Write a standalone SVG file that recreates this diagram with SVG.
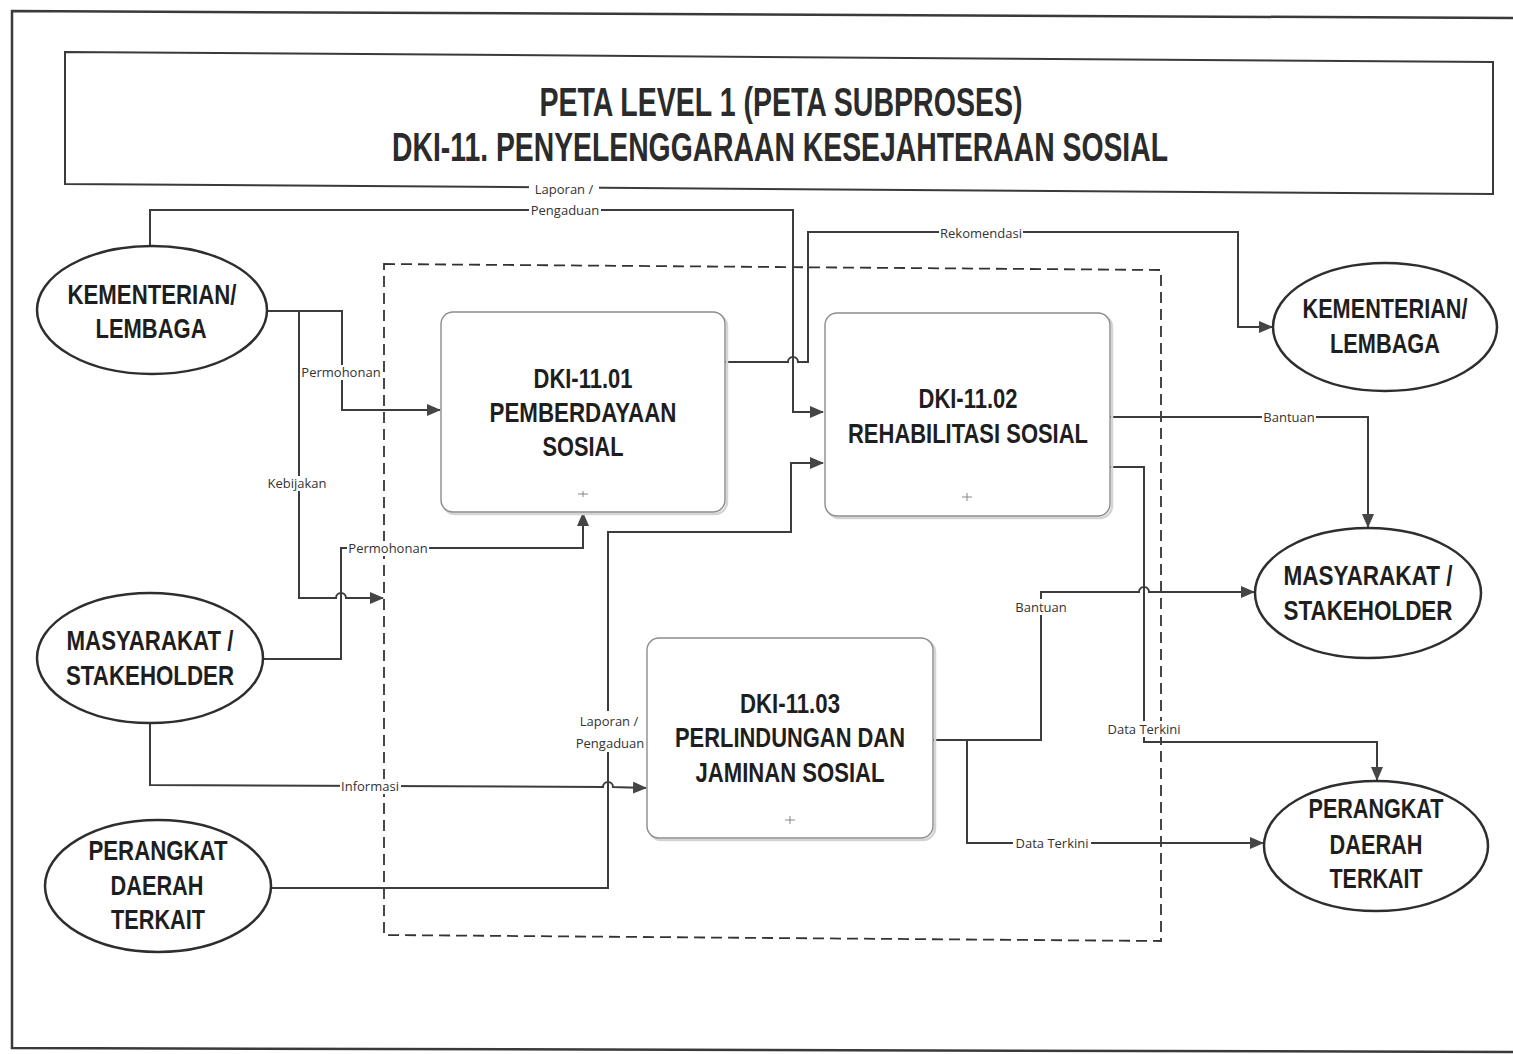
<svg xmlns="http://www.w3.org/2000/svg" width="1513" height="1054" viewBox="0 0 1513 1054">
<defs>
<style>
.pg{fill:none;stroke:#3a3a3a;stroke-width:2.5}
.ttl{font-family:"Liberation Sans",Arial,sans-serif;font-weight:bold;font-size:40px;fill:#2b2b2b;text-anchor:middle}
.nt{font-family:"Liberation Sans",Arial,sans-serif;font-weight:bold;font-size:28px;fill:#1e1e1e;text-anchor:middle}
.ell{fill:#fff;stroke:#2e2e2e;stroke-width:2.5}
.box{fill:#fff;stroke:#8c8c8c;stroke-width:1.4}
.shd{fill:none;stroke:#d4d4d4;stroke-width:2.5}
.mk{fill:none;stroke:#888;stroke-width:1}
.bnd{fill:none;stroke:#333;stroke-width:1.8;stroke-dasharray:11 6}
.cn{fill:none;stroke:#3c3c3c;stroke-width:2}
.cna{fill:none;stroke:#3c3c3c;stroke-width:2;marker-end:url(#ah)}
.lb{font-family:"Open Sans","Liberation Sans",sans-serif;font-size:13px;fill:#333;text-anchor:middle}
.lbg{fill:#fff}
</style>
<marker id="ah" markerUnits="userSpaceOnUse" markerWidth="14" markerHeight="12" refX="13" refY="6" orient="auto">
<path d="M0,0 L14,6 L0,12 z" fill="#454545"/>
</marker>
</defs>
<rect width="1513" height="1054" fill="#fff"/>

<g id="page">
<polyline class="pg" points="1513,18 12,11 12,1048 1513,1052"/>
</g>

<g id="title">
<polygon points="65,52 1493,62 1493,194 65,184" fill="#fff" stroke="#3a3a3a" stroke-width="2"/>
<text class="ttl" x="781" y="116" textLength="483" lengthAdjust="spacingAndGlyphs">PETA LEVEL 1 (PETA SUBPROSES)</text>
<text class="ttl" x="780" y="161" textLength="776" lengthAdjust="spacingAndGlyphs">DKI-11. PENYELENGGARAAN KESEJAHTERAAN SOSIAL</text>
</g>

<g id="boundary">
<polygon class="bnd" points="384,264 1161,270 1161,941 384,935"/>
</g>

<g id="connectors">
<path class="cna" d="M150,246 V210 H793 V412 H823"/>
<path class="cna" d="M267,311 H342 V410 H440"/>
<path class="cna" d="M267,311 H299 V598 H336 a5,5 0 0 1 10,0 H383"/>
<path class="cna" d="M263,659 H341 V548 H583 V513"/>
<path class="cna" d="M150,723 V785 L603,787 a5,5 0 0 1 10,0 L646,788"/>
<path class="cna" d="M271,888 H608 V532 H791 V463 H823"/>
<path class="cna" d="M725,362 H788 a5,5 0 0 1 10,0 H808 V232 H1238 V327 H1272"/>
<path class="cna" d="M1110,417 H1368 V527"/>
<path class="cna" d="M1110,467 H1144 V742 H1377 V780"/>
<path class="cna" d="M933,740 H1041 V592 H1139 a5,5 0 0 1 10,0 H1254"/>
<path class="cna" d="M967,740 V843 H1263"/>
</g>

<g id="labels">
<rect class="lbg" x="529" y="182" width="70" height="15"/>
<text class="lb" x="564" y="194">Laporan /</text>
<rect class="lbg" x="529" y="204" width="72" height="15"/>
<text class="lb" x="565" y="215">Pengaduan</text>
<rect class="lbg" x="939" y="226" width="84" height="15"/>
<text class="lb" x="981" y="238">Rekomendasi</text>
<rect class="lbg" x="300" y="365" width="82" height="15"/>
<text class="lb" x="341" y="377">Permohonan</text>
<rect class="lbg" x="266" y="476" width="62" height="15"/>
<text class="lb" x="297" y="488">Kebijakan</text>
<rect class="lbg" x="347" y="541" width="82" height="15"/>
<text class="lb" x="388" y="553">Permohonan</text>
<rect class="lbg" x="340" y="779" width="61" height="15"/>
<text class="lb" x="370" y="791">Informasi</text>
<rect class="lbg" x="573" y="711" width="74" height="41"/>
<text class="lb" x="609" y="726">Laporan /</text>
<text class="lb" x="610" y="748">Pengaduan</text>
<rect class="lbg" x="1262" y="410" width="54" height="15"/>
<text class="lb" x="1289" y="422">Bantuan</text>
<rect class="lbg" x="1014" y="599" width="54" height="16"/>
<text class="lb" x="1041" y="612">Bantuan</text>
<rect class="lbg" x="1105" y="721" width="78" height="16"/>
<text class="lb" x="1144" y="734">Data Terkini</text>
<rect class="lbg" x="1013" y="836" width="78" height="15"/>
<text class="lb" x="1052" y="848">Data Terkini</text>
</g>

<g id="node-kl1">
<ellipse class="ell" cx="152" cy="310" rx="115" ry="64"/>
<text class="nt" x="152" y="304" textLength="169" lengthAdjust="spacingAndGlyphs">KEMENTERIAN/</text>
<text class="nt" x="151" y="338" textLength="111" lengthAdjust="spacingAndGlyphs">LEMBAGA</text>
</g>

<g id="node-ms1">
<ellipse class="ell" cx="150" cy="658" rx="113" ry="65"/>
<text class="nt" x="150" y="650" textLength="167" lengthAdjust="spacingAndGlyphs">MASYARAKAT /</text>
<text class="nt" x="150" y="685" textLength="168" lengthAdjust="spacingAndGlyphs">STAKEHOLDER</text>
</g>

<g id="node-pd1">
<ellipse class="ell" cx="158" cy="886" rx="113" ry="66"/>
<text class="nt" x="158" y="860" textLength="139" lengthAdjust="spacingAndGlyphs">PERANGKAT</text>
<text class="nt" x="157" y="895" textLength="93" lengthAdjust="spacingAndGlyphs">DAERAH</text>
<text class="nt" x="158" y="929" textLength="94" lengthAdjust="spacingAndGlyphs">TERKAIT</text>
</g>

<g id="node-kl2">
<ellipse class="ell" cx="1385" cy="327" rx="112" ry="64"/>
<text class="nt" x="1385" y="318" textLength="165" lengthAdjust="spacingAndGlyphs">KEMENTERIAN/</text>
<text class="nt" x="1385" y="353" textLength="110" lengthAdjust="spacingAndGlyphs">LEMBAGA</text>
</g>

<g id="node-ms2">
<ellipse class="ell" cx="1368" cy="593" rx="113" ry="65"/>
<text class="nt" x="1368" y="585" textLength="169" lengthAdjust="spacingAndGlyphs">MASYARAKAT /</text>
<text class="nt" x="1368" y="620" textLength="169" lengthAdjust="spacingAndGlyphs">STAKEHOLDER</text>
</g>

<g id="node-pd2">
<ellipse class="ell" cx="1376" cy="846" rx="112" ry="65"/>
<text class="nt" x="1376" y="818" textLength="135" lengthAdjust="spacingAndGlyphs">PERANGKAT</text>
<text class="nt" x="1376" y="854" textLength="93" lengthAdjust="spacingAndGlyphs">DAERAH</text>
<text class="nt" x="1376" y="888" textLength="93" lengthAdjust="spacingAndGlyphs">TERKAIT</text>
</g>

<g id="node-dki1101">
<rect class="shd" x="443" y="314" width="284" height="200" rx="12"/>
<rect class="box" x="441" y="312" width="284" height="200" rx="12"/>
<text class="nt" x="583" y="388" textLength="99" lengthAdjust="spacingAndGlyphs">DKI-11.01</text>
<text class="nt" x="583" y="422" textLength="187" lengthAdjust="spacingAndGlyphs">PEMBERDAYAAN</text>
<text class="nt" x="583" y="456" textLength="81" lengthAdjust="spacingAndGlyphs">SOSIAL</text>
<path class="mk" d="M578,494 H588 M583,491 V497"/>
</g>

<g id="node-dki1102">
<rect class="shd" x="827" y="315" width="285" height="203" rx="12"/>
<rect class="box" x="825" y="313" width="285" height="203" rx="12"/>
<text class="nt" x="968" y="408" textLength="99" lengthAdjust="spacingAndGlyphs">DKI-11.02</text>
<text class="nt" x="968" y="443" textLength="240" lengthAdjust="spacingAndGlyphs">REHABILITASI SOSIAL</text>
<path class="mk" d="M962,497 H972 M967,493 V501"/>
</g>

<g id="node-dki1103">
<rect class="shd" x="649" y="640" width="286" height="200" rx="12"/>
<rect class="box" x="647" y="638" width="286" height="200" rx="12"/>
<text class="nt" x="790" y="713" textLength="100" lengthAdjust="spacingAndGlyphs">DKI-11.03</text>
<text class="nt" x="790" y="747" textLength="230" lengthAdjust="spacingAndGlyphs">PERLINDUNGAN DAN</text>
<text class="nt" x="790" y="782" textLength="189" lengthAdjust="spacingAndGlyphs">JAMINAN SOSIAL</text>
<path class="mk" d="M785,820 H795 M790,816 V824"/>
</g>
</svg>
